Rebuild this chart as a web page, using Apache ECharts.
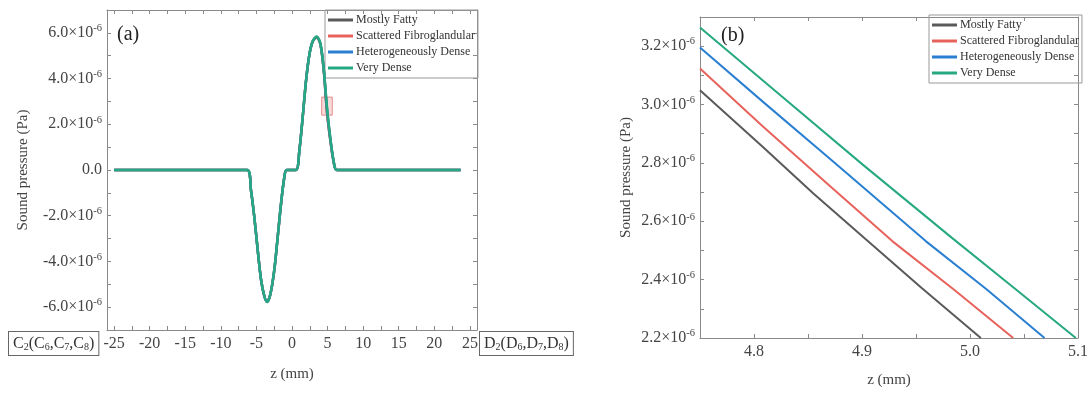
<!DOCTYPE html>
<html><head><meta charset="utf-8">
<script src="https://cdn.jsdelivr.net/npm/echarts@6/dist/echarts.min.js"></script>
<style>html,body{margin:0;padding:0;background:#fff}#c{width:1091px;height:393px}</style>
</head><body><div id="c"></div>
<script>
// ---- DATA (pressure in units of 1e-6 Pa, z in mm) ----
var seriesNames = ['Mostly Fatty', 'Scattered Fibroglandular', 'Heterogeneously Dense', 'Very Dense'];
var colors = ['#5a5a5a', '#e8625c', '#2a7fd0', '#26a881'];

// Panel (a): full pulse
var zA = [-25, -6.3, -5.76, -5.3, -4.82, -4.35, -3.9, -3.5, -3.05, -2.5, -2.0, -1.55, -1.08, -0.75, 0.56, 1.03, 1.5, 1.97, 2.44, 2.9, 3.47, 3.98, 4.45, 4.92, 5.38, 5.85, 6.32, 23.7];
var pA_fatty  = [0, 0, -0.9, -2.05, -3.5, -4.8, -5.5, -5.76, -5.45, -4.4, -2.9, -1.5, -0.32, 0, 0, 0.84, 2.3, 3.9, 5.04, 5.62, 5.80, 5.50, 4.38, 2.50, 1.30, 0.36, 0, 0];
var pA_scatt  = [0, 0, -0.9, -2.05, -3.5, -4.8, -5.5, -5.77, -5.45, -4.4, -2.9, -1.5, -0.32, 0, 0, 0.84, 2.3, 3.9, 5.04, 5.62, 5.82, 5.52, 4.42, 2.58, 1.35, 0.38, 0, 0];
var pA_hetero = [0, 0, -0.9, -2.05, -3.5, -4.8, -5.5, -5.78, -5.45, -4.4, -2.9, -1.5, -0.32, 0, 0, 0.84, 2.3, 3.9, 5.04, 5.62, 5.83, 5.54, 4.45, 2.66, 1.39, 0.39, 0, 0];
var pA_dense  = [0, 0, -0.9, -2.05, -3.5, -4.8, -5.5, -5.78, -5.45, -4.4, -2.9, -1.5, -0.32, 0, 0, 0.84, 2.3, 3.9, 5.04, 5.62, 5.84, 5.55, 4.47, 2.74, 1.42, 0.40, 0, 0];
var insetBox = [[4.17, 2.40], [5.66, 3.19]];

// Panel (b): zoom on falling edge
var zB_fatty  = [4.75, 4.808, 4.855, 4.9035, 4.955, 5.010];
var pB_fatty  = [3.049, 2.855, 2.695, 2.538, 2.372, 2.200];
var zB_scatt  = [4.75, 4.808, 4.87, 4.928, 4.985, 5.040];
var pB_scatt  = [3.1235, 2.926, 2.722, 2.532, 2.366, 2.200];
var zB_hetero = [4.75, 4.81, 4.873, 4.959, 5.015, 5.069];
var pB_hetero = [3.1955, 3.004, 2.806, 2.532, 2.368, 2.200];
var zB_dense  = [4.75, 4.825, 4.9004, 4.983, 5.04, 5.098];
var pB_dense  = [3.264, 3.030, 2.795, 2.544, 2.374, 2.200];

// Tick values
var xTicksA = [-25, -20, -15, -10, -5, 0, 5, 10, 15, 20, 25];
var xMinorA = [-22.5, -17.5, -12.5, -7.5, -2.5, 2.5, 7.5, 12.5, 17.5, 22.5];
var yTicksA = [-6, -4, -2, 0, 2, 4, 6];
var yMinorA = [-7, -5, -3, -1, 1, 3, 5, 7];
var xTicksB = [4.8, 4.9, 5.0, 5.1];
var xMinorB = [4.75, 4.85, 4.95, 5.05];
var yTicksB = [2.2, 2.4, 2.6, 2.8, 3.0, 3.2];
var yMinorB = [2.3, 2.5, 2.7, 2.9, 3.1, 3.3];

// ---- CHART ----
var FONT = "'Liberation Serif','DejaVu Serif',serif";
var TXT = '#444';
var AX = '#8a8a8a';
var LBL = 16;
function zip(a, b) { return a.map(function (v, i) { return [v, b[i]]; }); }
function sciLabel(v) {
  if (Math.abs(v) < 1e-9) return '0.0';
  return '{m|' + v.toFixed(1) + '×10}{s|-6}';
}
var richLab = {
  m: { fontFamily: FONT, fontSize: LBL, color: TXT },
  s: { fontFamily: FONT, fontSize: 10.5, color: TXT, padding: [0, 0, 9, 0] }
};
function xAx(grid, min, max, ticks, minor, pos, labels, name, nameGap, dec) {
  var o = {
    type: 'value', gridIndex: grid, min: min, max: max, position: pos,
    axisLine: { show: true, onZero: false, lineStyle: { color: AX, width: 1 } },
    axisTick: { show: true, inside: true, length: 4, customValues: ticks.concat(minor), lineStyle: { color: AX } },
    splitLine: { show: false },
    axisLabel: { show: labels, customValues: ticks, margin: 6, fontFamily: FONT, fontSize: LBL, color: TXT,
      formatter: function (v) { return dec ? v.toFixed(dec) : String(v); } }
  };
  if (name) { o.name = name; o.nameLocation = 'middle'; o.nameGap = nameGap; o.nameTextStyle = { fontFamily: FONT, fontSize: 15, color: TXT }; }
  return o;
}
function yAx(grid, min, max, ticks, minor, pos, labels, name, nameGap) {
  var o = {
    type: 'value', gridIndex: grid, min: min, max: max, position: pos,
    axisLine: { show: true, onZero: false, lineStyle: { color: AX, width: 1 } },
    axisTick: { show: true, inside: true, length: 4, customValues: ticks.concat(minor), lineStyle: { color: AX } },
    splitLine: { show: false },
    axisLabel: { show: labels, customValues: ticks, margin: 5, formatter: sciLabel, rich: richLab, fontFamily: FONT, fontSize: LBL, color: TXT }
  };
  if (name) { o.name = name; o.nameLocation = 'middle'; o.nameGap = nameGap; o.nameTextStyle = { fontFamily: FONT, fontSize: 15, color: TXT }; }
  return o;
}

var pA = [pA_fatty, pA_scatt, pA_hetero, pA_dense];
var zB = [zB_fatty, zB_scatt, zB_hetero, zB_dense];
var pB = [pB_fatty, pB_scatt, pB_hetero, pB_dense];

var series = [];
seriesNames.forEach(function (n, i) {
  var s = {
    name: n, type: 'line', xAxisIndex: 0, yAxisIndex: 0, data: zip(zA, pA[i]),
    showSymbol: false, symbol: 'none', smooth: 0.3, lineStyle: { color: colors[i], width: 2.5 }, itemStyle: { color: colors[i] }, z: 2 + i
  };
  if (i === 3) {
    s.markArea = { silent: true, itemStyle: { color: 'rgba(235,150,150,0.35)', borderColor: 'rgba(225,110,110,0.75)', borderWidth: 1 },
      data: [[{ coord: insetBox[0] }, { coord: insetBox[1] }]] };
  }
  series.push(s);
});
seriesNames.forEach(function (n, i) {
  series.push({
    name: n, type: 'line', xAxisIndex: 2, yAxisIndex: 2, data: zip(zB[i], pB[i]),
    showSymbol: false, symbol: 'none', lineStyle: { color: colors[i], width: 2 }, itemStyle: { color: colors[i] }, z: 2 + i
  });
});

function legend(left, top) {
  return {
    left: left, top: top, orient: 'vertical', data: seriesNames, icon: 'rect', itemWidth: 25, itemHeight: 3, itemGap: 4,
    padding: [4, 3, 4, 3], borderColor: '#999', borderWidth: 1, selectedMode: false,
    textStyle: { fontFamily: FONT, fontSize: 12, color: '#333', padding: [0, 0, 0, -2] }
  };
}

var subRich = {
  b: { fontFamily: FONT, fontSize: 16, fill: '#333' },
  u: { fontFamily: FONT, fontSize: 10, fill: '#333', padding: [7, 0, 0, 0] }
};
function boxed(left, top, letter) {
  var t = '{b|' + letter + '}{u|2}{b|(' + letter + '}{u|6}{b|,' + letter + '}{u|7}{b|,' + letter + '}{u|8}{b|)}';
  return { type: 'text', left: left, top: top, style: { text: t, rich: subRich, fill: '#333', padding: [3, 4, 3, 4], borderColor: '#666', borderWidth: 1, backgroundColor: '#fff' } };
}

var chart = echarts.init(document.getElementById('c'));
chart.setOption({
  animation: false,
  backgroundColor: '#fff',
  grid: [
    { left: 107, right: 614, top: 10, bottom: 63 },
    { left: 700, right: 11, top: 17, bottom: 55 }
  ],
  xAxis: [
    xAx(0, -26, 26, xTicksA, xMinorA, 'bottom', true, 'z (mm)', 37, 0),
    xAx(0, -26, 26, xTicksA, xMinorA, 'top', false),
    xAx(1, 4.75, 5.1, xTicksB, xMinorB, 'bottom', true, 'z (mm)', 35, 1),
    xAx(1, 4.75, 5.1, xTicksB, xMinorB, 'top', false)
  ],
  yAxis: [
    yAx(0, -7, 7, yTicksA, yMinorA, 'left', true, 'Sound pressure (Pa)', 76),
    yAx(0, -7, 7, yTicksA, yMinorA, 'right', false),
    yAx(1, 2.2, 3.3, yTicksB, yMinorB, 'left', true, 'Sound pressure (Pa)', 66),
    yAx(1, 2.2, 3.3, yTicksB, yMinorB, 'right', false)
  ],
  legend: [legend(325, 10), legend(929, 15)],
  series: series,
  graphic: [
    { type: 'text', left: 117, top: 25, style: { text: '(a)', font: "20px 'Liberation Serif', serif", fill: '#222' } },
    { type: 'text', left: 721, top: 26, style: { text: '(b)', font: "20px 'Liberation Serif', serif", fill: '#222' } },
    boxed(8, 331, 'C'),
    boxed(479, 331, 'D')
  ]
});
</script></body></html>
